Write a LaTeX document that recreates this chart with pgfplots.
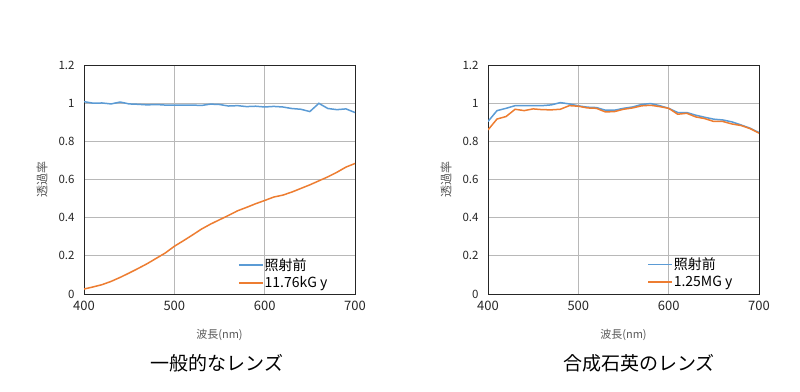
\documentclass[border=0pt]{standalone}
\usepackage{fontspec}
\setmainfont{Noto Sans CJK JP}
\usepackage{pgfplots}
\pgfplotsset{compat=1.18}
\definecolor{xblue}{HTML}{5B9BD5}
\definecolor{xorange}{HTML}{ED7D31}
\pgfplotsset{myax/.style={
  scale only axis, width=271pt, height=229pt,
  xmin=400, xmax=700, ymin=0, ymax=1.2,
  xtick={400,500,600,700}, ytick={0,0.2,0.4,0.6,0.8,1,1.2},
  grid=major, major grid style={draw=black!28, line width=0.8pt},
  axis line style={draw=black!85, line width=0.8pt},
  tick style={draw=none},
  /pgf/number format/assume math mode=true,
  yticklabel style={font=\fontsize{11.5}{11.5}\selectfont, text=black!85, xshift=-6pt},
  xticklabel style={font=\fontsize{13}{13}\selectfont, text=black!85, /pgf/number format/1000 sep={}, yshift=-4pt},
  xlabel={波長(nm)}, ylabel={透過率},
  xlabel style={font=\fontsize{11}{11}\selectfont, text=black!65, at={(axis description cs:0.5,-0.178)}, anchor=center},
  ylabel style={font=\fontsize{12}{12}\selectfont, text=black!65, at={(axis description cs:-0.155,0.5)}, anchor=center},
  legend style={draw=none, fill=none, inner sep=0pt, font=\fontsize{14}{14}\selectfont, row sep=3pt,
    text=black, nodes={inner xsep=1pt, inner ysep=1pt}},
  legend cell align=left,
  legend image code/.code={\draw[#1] (0pt,0pt) -- (24pt,0pt);},
  every axis plot/.append style={no markers, line width=1.5pt},
}}
\begin{document}
\begin{tikzpicture}
\path (0pt,0pt) rectangle (800pt,391pt);
\begin{axis}[myax, at={(84pt,97pt)}, anchor=south west,
  legend style={at={(0.568,0.015)}, anchor=south west}]
\addplot[color=xblue] coordinates {
(400,1.008)(410,1.0)(420,1.001)(430,0.996)(440,1.006)(450,0.996)(460,0.994)(470,0.991)(480,0.993)(490,0.990)
(500,0.990)(510,0.990)(520,0.990)(530,0.988)(540,0.995)(550,0.993)(560,0.985)(570,0.987)(580,0.982)(590,0.984)
(600,0.980)(610,0.983)(620,0.980)(630,0.972)(640,0.968)(650,0.956)(660,0.999)(670,0.972)(680,0.966)(690,0.970)(700,0.951)};
\addlegendentry{照射前}
\addplot[color=xorange] coordinates {
(400,0.026)(410,0.037)(420,0.049)(430,0.066)(440,0.087)(450,0.110)(460,0.134)(470,0.159)(480,0.187)(490,0.215)
(500,0.250)(510,0.279)(520,0.309)(530,0.340)(540,0.366)(550,0.389)(560,0.412)(570,0.436)(580,0.454)(590,0.473)
(600,0.490)(610,0.508)(620,0.518)(630,0.534)(640,0.553)(650,0.572)(660,0.593)(670,0.614)(680,0.638)(690,0.665)(700,0.684)};
\addlegendentry{11.76kG y}
\end{axis}
\begin{axis}[myax, at={(488pt,97pt)}, anchor=south west,
  legend style={at={(0.587,0.02)}, anchor=south west}]
\addplot[color=xblue] coordinates {
(400,0.904)(410,0.961)(420,0.973)(430,0.987)(440,0.987)(450,0.987)(460,0.987)(470,0.991)(480,1.003)(490,0.996)
(500,0.986)(510,0.979)(520,0.977)(530,0.963)(540,0.963)(550,0.973)(560,0.980)(570,0.993)(580,0.998)(590,0.987)
(600,0.973)(610,0.951)(620,0.951)(630,0.937)(640,0.926)(650,0.916)(660,0.912)(670,0.902)(680,0.886)(690,0.869)(700,0.846)};
\addlegendentry{照射前}
\addplot[color=xorange] coordinates {
(400,0.860)(410,0.917)(420,0.930)(430,0.968)(440,0.961)(450,0.970)(460,0.966)(470,0.965)(480,0.968)(490,0.987)
(500,0.984)(510,0.975)(520,0.973)(530,0.954)(540,0.956)(550,0.968)(560,0.975)(570,0.986)(580,0.989)(590,0.982)
(600,0.973)(610,0.942)(620,0.947)(630,0.928)(640,0.919)(650,0.904)(660,0.904)(670,0.891)(680,0.883)(690,0.867)(700,0.843)};
\addlegendentry{1.25MG y}
\end{axis}
\node[font=\fontsize{19}{19}\selectfont] at (217pt,28pt) {一般的なレンズ};
\node[font=\fontsize{19}{19}\selectfont] at (639pt,28pt) {合成石英のレンズ};
\end{tikzpicture}
\end{document}
